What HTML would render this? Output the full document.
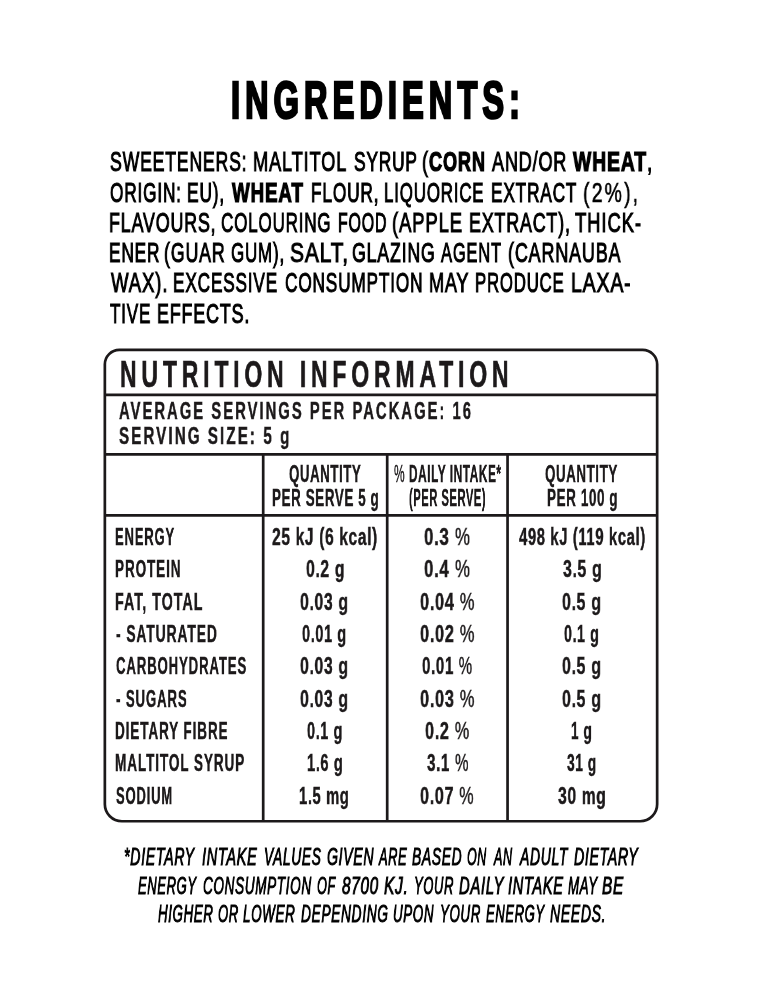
<!DOCTYPE html><html><head><meta charset="utf-8"><style>
*{margin:0;padding:0}
html,body{width:761px;height:1000px;background:#fff;overflow:hidden}
body{position:relative;font-family:"Liberation Sans",sans-serif}
b{font-weight:700}
.t{position:absolute;white-space:nowrap;line-height:1;transform-origin:0 0;will-change:transform}
svg{position:absolute;left:0;top:0}

</style></head><body>
<svg width="761" height="1000" viewBox="0 0 761 1000"><g fill="none" stroke="#1c191a" stroke-width="2.70"><path d="M119.35 349.85 H642.65 A14.50 14.50 0 0 1 657.15 364.35 V804.25 A17.00 17.00 0 0 1 640.15 821.25 H121.85 A17.00 17.00 0 0 1 104.85 804.25 V364.35 A14.50 14.50 0 0 1 119.35 349.85 Z"/><line x1="104.50" y1="394.80" x2="657.50" y2="394.80"/><line x1="104.50" y1="454.40" x2="657.50" y2="454.40"/><line x1="104.50" y1="515.35" x2="657.50" y2="515.35"/><line x1="263.20" y1="454.40" x2="263.20" y2="821.60"/><line x1="387.20" y1="454.40" x2="387.20" y2="821.60"/><line x1="507.55" y1="454.40" x2="507.55" y2="821.60"/></g></svg>
<div class="t" style="left:230.70px;top:74.73px;color:#000;transform:scaleX(0.6359);font-size:51.126px;font-weight:700;letter-spacing:8.000px;-webkit-text-stroke:2.60px #000;">INGREDIENTS:</div>
<div class="t" style="left:109.65px;top:148.41px;color:#000;transform:scaleX(0.6407);font-size:27.507px;font-weight:400;letter-spacing:1.300px;-webkit-text-stroke:1.10px #000;">SWEETENERS:</div>
<div class="t" style="left:252.71px;top:148.41px;color:#000;transform:scaleX(0.6616);font-size:27.507px;font-weight:400;letter-spacing:1.300px;-webkit-text-stroke:1.10px #000;">MALTITOL</div>
<div class="t" style="left:353.65px;top:148.41px;color:#000;transform:scaleX(0.6296);font-size:27.507px;font-weight:400;letter-spacing:1.300px;-webkit-text-stroke:1.10px #000;">SYRUP</div>
<div class="t" style="left:421.67px;top:148.41px;color:#000;transform:scaleX(0.6615);font-size:27.507px;font-weight:400;letter-spacing:1.300px;-webkit-text-stroke:1.10px #000;">(<b style="-webkit-text-stroke-width:0.045em">CORN</b></div>
<div class="t" style="left:492.05px;top:148.41px;color:#000;transform:scaleX(0.6551);font-size:27.507px;font-weight:400;letter-spacing:1.300px;-webkit-text-stroke:1.10px #000;">AND/OR</div>
<div class="t" style="left:572.98px;top:148.41px;color:#000;transform:scaleX(0.7029);font-size:27.507px;font-weight:400;letter-spacing:1.300px;-webkit-text-stroke:1.10px #000;"><b style="-webkit-text-stroke-width:0.045em">WHEAT</b>,</div>
<div class="t" style="left:109.77px;top:178.63px;color:#000;transform:scaleX(0.6267);font-size:27.507px;font-weight:400;letter-spacing:1.300px;-webkit-text-stroke:1.10px #000;">ORIGIN:</div>
<div class="t" style="left:186.76px;top:178.63px;color:#000;transform:scaleX(0.6312);font-size:27.507px;font-weight:400;letter-spacing:1.300px;-webkit-text-stroke:1.10px #000;">EU),</div>
<div class="t" style="left:232.37px;top:178.63px;color:#000;transform:scaleX(0.6814);font-size:27.507px;font-weight:400;letter-spacing:1.300px;-webkit-text-stroke:1.10px #000;"><b style="-webkit-text-stroke-width:0.045em">WHEAT</b></div>
<div class="t" style="left:310.66px;top:178.63px;color:#000;transform:scaleX(0.6289);font-size:27.507px;font-weight:400;letter-spacing:1.300px;-webkit-text-stroke:1.10px #000;">FLOUR,</div>
<div class="t" style="left:384.38px;top:178.63px;color:#000;transform:scaleX(0.6160);font-size:27.507px;font-weight:400;letter-spacing:1.300px;-webkit-text-stroke:1.10px #000;">LIQUORICE</div>
<div class="t" style="left:491.26px;top:178.63px;color:#000;transform:scaleX(0.6275);font-size:27.507px;font-weight:400;letter-spacing:1.300px;-webkit-text-stroke:1.10px #000;">EXTRACT</div>
<div class="t" style="left:583.12px;top:178.27px;color:#000;transform:scaleX(0.6939);font-size:28.232px;font-weight:400;letter-spacing:3.000px;-webkit-text-stroke:0.60px #000;">(2%),</div>
<div class="t" style="left:109.13px;top:208.85px;color:#000;transform:scaleX(0.6493);font-size:27.507px;font-weight:400;letter-spacing:1.300px;-webkit-text-stroke:1.10px #000;">FLAVOURS,</div>
<div class="t" style="left:221.29px;top:208.85px;color:#000;transform:scaleX(0.6195);font-size:27.507px;font-weight:400;letter-spacing:1.300px;-webkit-text-stroke:1.10px #000;">COLOURING</div>
<div class="t" style="left:337.54px;top:208.85px;color:#000;transform:scaleX(0.5814);font-size:27.507px;font-weight:400;letter-spacing:1.300px;-webkit-text-stroke:1.10px #000;">FOOD</div>
<div class="t" style="left:392.26px;top:208.85px;color:#000;transform:scaleX(0.6715);font-size:27.507px;font-weight:400;letter-spacing:1.300px;-webkit-text-stroke:1.10px #000;">(APPLE</div>
<div class="t" style="left:468.93px;top:208.85px;color:#000;transform:scaleX(0.6488);font-size:27.507px;font-weight:400;letter-spacing:1.300px;-webkit-text-stroke:1.10px #000;">EXTRACT),</div>
<div class="t" style="left:575.40px;top:208.85px;color:#000;transform:scaleX(0.6727);font-size:27.507px;font-weight:400;letter-spacing:1.300px;-webkit-text-stroke:1.10px #000;">THICK-</div>
<div class="t" style="left:109.16px;top:239.07px;color:#000;transform:scaleX(0.6274);font-size:27.507px;font-weight:400;letter-spacing:1.300px;-webkit-text-stroke:1.10px #000;">ENER</div>
<div class="t" style="left:164.09px;top:239.07px;color:#000;transform:scaleX(0.6470);font-size:27.507px;font-weight:400;letter-spacing:1.300px;-webkit-text-stroke:1.10px #000;">(GUAR</div>
<div class="t" style="left:231.49px;top:239.07px;color:#000;transform:scaleX(0.6169);font-size:27.507px;font-weight:400;letter-spacing:1.300px;-webkit-text-stroke:1.10px #000;">GUM),</div>
<div class="t" style="left:290.38px;top:239.07px;color:#000;transform:scaleX(0.7568);font-size:27.507px;font-weight:400;letter-spacing:1.300px;-webkit-text-stroke:1.10px #000;">SALT,</div>
<div class="t" style="left:352.47px;top:239.07px;color:#000;transform:scaleX(0.6439);font-size:27.507px;font-weight:400;letter-spacing:1.300px;-webkit-text-stroke:1.10px #000;">GLAZING</div>
<div class="t" style="left:441.21px;top:239.07px;color:#000;transform:scaleX(0.6008);font-size:27.507px;font-weight:400;letter-spacing:1.300px;-webkit-text-stroke:1.10px #000;">AGENT</div>
<div class="t" style="left:507.98px;top:239.07px;color:#000;transform:scaleX(0.6527);font-size:27.507px;font-weight:400;letter-spacing:1.300px;-webkit-text-stroke:1.10px #000;">(CARNAUBA</div>
<div class="t" style="left:110.57px;top:269.29px;color:#000;transform:scaleX(0.6748);font-size:27.507px;font-weight:400;letter-spacing:1.300px;-webkit-text-stroke:1.10px #000;">WAX).</div>
<div class="t" style="left:172.97px;top:269.29px;color:#000;transform:scaleX(0.6265);font-size:27.507px;font-weight:400;letter-spacing:1.300px;-webkit-text-stroke:1.10px #000;">EXCESSIVE</div>
<div class="t" style="left:284.58px;top:269.29px;color:#000;transform:scaleX(0.6270);font-size:27.507px;font-weight:400;letter-spacing:1.300px;-webkit-text-stroke:1.10px #000;">CONSUMPTION</div>
<div class="t" style="left:429.12px;top:269.29px;color:#000;transform:scaleX(0.6557);font-size:27.507px;font-weight:400;letter-spacing:1.300px;-webkit-text-stroke:1.10px #000;">MAY</div>
<div class="t" style="left:475.19px;top:269.29px;color:#000;transform:scaleX(0.6103);font-size:27.507px;font-weight:400;letter-spacing:1.300px;-webkit-text-stroke:1.10px #000;">PRODUCE</div>
<div class="t" style="left:570.54px;top:269.29px;color:#000;transform:scaleX(0.7040);font-size:27.507px;font-weight:400;letter-spacing:1.300px;-webkit-text-stroke:1.10px #000;">LAXA-</div>
<div class="t" style="left:110.20px;top:299.51px;color:#000;transform:scaleX(0.6199);font-size:27.507px;font-weight:400;letter-spacing:1.300px;-webkit-text-stroke:1.10px #000;">TIVE</div>
<div class="t" style="left:157.23px;top:299.51px;color:#000;transform:scaleX(0.6498);font-size:27.507px;font-weight:400;letter-spacing:1.300px;-webkit-text-stroke:1.10px #000;">EFFECTS.</div>
<div class="t" style="left:119.62px;top:357.18px;color:#1c191a;transform:scaleX(0.6388);font-size:36.080px;font-weight:700;letter-spacing:7.500px;-webkit-text-stroke:0.60px #1c191a;">NUTRITION INFORMATION</div>
<div class="t" style="left:119.48px;top:400.27px;color:#1c191a;transform:scaleX(0.6319);font-size:23.422px;font-weight:700;letter-spacing:3.200px;-webkit-text-stroke:0.45px #1c191a;">AVERAGE SERVINGS PER PACKAGE: 16</div>
<div class="t" style="left:119.40px;top:424.99px;color:#1c191a;transform:scaleX(0.6517);font-size:23.277px;font-weight:700;letter-spacing:3.200px;-webkit-text-stroke:0.45px #1c191a;">SERVING SIZE: 5 g</div>
<div class="t" style="left:289.10px;top:461.54px;color:#1c191a;transform:scaleX(0.5568);font-size:23.855px;font-weight:700;letter-spacing:1.000px;-webkit-text-stroke:0.45px #1c191a;">QUANTITY</div>
<div class="t" style="left:272.19px;top:486.24px;color:#1c191a;transform:scaleX(0.5643);font-size:23.855px;font-weight:700;letter-spacing:1.000px;-webkit-text-stroke:0.45px #1c191a;">PER SERVE 5 g</div>
<div class="t" style="left:394.00px;top:461.54px;color:#1c191a;transform:scaleX(0.5010);font-size:23.855px;font-weight:700;letter-spacing:1.000px;-webkit-text-stroke:0.45px #1c191a;"><span style="font-weight:400">%</span> DAILY INTAKE*</div>
<div class="t" style="left:408.85px;top:486.24px;color:#1c191a;transform:scaleX(0.4729);font-size:23.855px;font-weight:700;letter-spacing:1.000px;-webkit-text-stroke:0.45px #1c191a;">(PER SERVE)</div>
<div class="t" style="left:545.10px;top:461.54px;color:#1c191a;transform:scaleX(0.5607);font-size:23.855px;font-weight:700;letter-spacing:1.000px;-webkit-text-stroke:0.45px #1c191a;">QUANTITY</div>
<div class="t" style="left:546.59px;top:486.24px;color:#1c191a;transform:scaleX(0.5660);font-size:23.855px;font-weight:700;letter-spacing:1.000px;-webkit-text-stroke:0.45px #1c191a;">PER 100 g</div>
<div class="t" style="left:115.22px;top:525.07px;color:#1c191a;transform:scaleX(0.5396);font-size:24.078px;font-weight:700;letter-spacing:1.600px;-webkit-text-stroke:0.45px #1c191a;">ENERGY</div>
<div class="t" style="left:272.11px;top:525.07px;color:#1c191a;transform:scaleX(0.6465);font-size:24.078px;font-weight:700;letter-spacing:1.000px;-webkit-text-stroke:0.45px #1c191a;">25 kJ (6 kcal)</div>
<div class="t" style="left:423.79px;top:525.07px;color:#1c191a;transform:scaleX(0.6997);font-size:24.078px;font-weight:700;letter-spacing:1.000px;-webkit-text-stroke:0.45px #1c191a;">0.3 <span style="font-weight:400">%</span></div>
<div class="t" style="left:518.73px;top:525.07px;color:#1c191a;transform:scaleX(0.6166);font-size:24.078px;font-weight:700;letter-spacing:1.000px;-webkit-text-stroke:0.45px #1c191a;">498 kJ (119 kcal)</div>
<div class="t" style="left:115.19px;top:557.41px;color:#1c191a;transform:scaleX(0.5617);font-size:24.078px;font-weight:700;letter-spacing:1.600px;-webkit-text-stroke:0.45px #1c191a;">PROTEIN</div>
<div class="t" style="left:305.53px;top:557.41px;color:#1c191a;transform:scaleX(0.6525);font-size:24.078px;font-weight:700;letter-spacing:1.000px;-webkit-text-stroke:0.45px #1c191a;">0.2 g</div>
<div class="t" style="left:423.79px;top:557.41px;color:#1c191a;transform:scaleX(0.6997);font-size:24.078px;font-weight:700;letter-spacing:1.000px;-webkit-text-stroke:0.45px #1c191a;">0.4 <span style="font-weight:400">%</span></div>
<div class="t" style="left:562.56px;top:557.41px;color:#1c191a;transform:scaleX(0.6572);font-size:24.078px;font-weight:700;letter-spacing:1.000px;-webkit-text-stroke:0.45px #1c191a;">3.5 g</div>
<div class="t" style="left:115.14px;top:589.75px;color:#1c191a;transform:scaleX(0.5966);font-size:24.078px;font-weight:700;letter-spacing:1.600px;-webkit-text-stroke:0.45px #1c191a;">FAT, TOTAL</div>
<div class="t" style="left:300.23px;top:589.75px;color:#1c191a;transform:scaleX(0.6564);font-size:24.078px;font-weight:700;letter-spacing:1.000px;-webkit-text-stroke:0.45px #1c191a;">0.03 g</div>
<div class="t" style="left:419.51px;top:589.75px;color:#1c191a;transform:scaleX(0.6805);font-size:24.078px;font-weight:700;letter-spacing:1.000px;-webkit-text-stroke:0.45px #1c191a;">0.04 <span style="font-weight:400">%</span></div>
<div class="t" style="left:562.32px;top:589.75px;color:#1c191a;transform:scaleX(0.6613);font-size:24.078px;font-weight:700;letter-spacing:1.000px;-webkit-text-stroke:0.45px #1c191a;">0.5 g</div>
<div class="t" style="left:115.59px;top:622.09px;color:#1c191a;transform:scaleX(0.5744);font-size:24.078px;font-weight:700;letter-spacing:1.600px;-webkit-text-stroke:0.45px #1c191a;">- SATURATED</div>
<div class="t" style="left:302.16px;top:622.09px;color:#1c191a;transform:scaleX(0.6030);font-size:24.078px;font-weight:700;letter-spacing:1.000px;-webkit-text-stroke:0.45px #1c191a;">0.01 g</div>
<div class="t" style="left:419.51px;top:622.09px;color:#1c191a;transform:scaleX(0.6805);font-size:24.078px;font-weight:700;letter-spacing:1.000px;-webkit-text-stroke:0.45px #1c191a;">0.02 <span style="font-weight:400">%</span></div>
<div class="t" style="left:564.37px;top:622.09px;color:#1c191a;transform:scaleX(0.5908);font-size:24.078px;font-weight:700;letter-spacing:1.000px;-webkit-text-stroke:0.45px #1c191a;">0.1 g</div>
<div class="t" style="left:115.60px;top:654.43px;color:#1c191a;transform:scaleX(0.5471);font-size:24.078px;font-weight:700;letter-spacing:1.600px;-webkit-text-stroke:0.45px #1c191a;">CARBOHYDRATES</div>
<div class="t" style="left:300.23px;top:654.43px;color:#1c191a;transform:scaleX(0.6564);font-size:24.078px;font-weight:700;letter-spacing:1.000px;-webkit-text-stroke:0.45px #1c191a;">0.03 g</div>
<div class="t" style="left:421.55px;top:654.43px;color:#1c191a;transform:scaleX(0.6271);font-size:24.078px;font-weight:700;letter-spacing:1.000px;-webkit-text-stroke:0.45px #1c191a;">0.01 <span style="font-weight:400">%</span></div>
<div class="t" style="left:562.32px;top:654.43px;color:#1c191a;transform:scaleX(0.6613);font-size:24.078px;font-weight:700;letter-spacing:1.000px;-webkit-text-stroke:0.45px #1c191a;">0.5 g</div>
<div class="t" style="left:115.60px;top:686.77px;color:#1c191a;transform:scaleX(0.5491);font-size:24.078px;font-weight:700;letter-spacing:1.600px;-webkit-text-stroke:0.45px #1c191a;">- SUGARS</div>
<div class="t" style="left:300.23px;top:686.77px;color:#1c191a;transform:scaleX(0.6564);font-size:24.078px;font-weight:700;letter-spacing:1.000px;-webkit-text-stroke:0.45px #1c191a;">0.03 g</div>
<div class="t" style="left:419.51px;top:686.77px;color:#1c191a;transform:scaleX(0.6805);font-size:24.078px;font-weight:700;letter-spacing:1.000px;-webkit-text-stroke:0.45px #1c191a;">0.03 <span style="font-weight:400">%</span></div>
<div class="t" style="left:562.32px;top:686.77px;color:#1c191a;transform:scaleX(0.6613);font-size:24.078px;font-weight:700;letter-spacing:1.000px;-webkit-text-stroke:0.45px #1c191a;">0.5 g</div>
<div class="t" style="left:115.19px;top:719.11px;color:#1c191a;transform:scaleX(0.5612);font-size:24.078px;font-weight:700;letter-spacing:1.600px;-webkit-text-stroke:0.45px #1c191a;">DIETARY FIBRE</div>
<div class="t" style="left:306.97px;top:719.11px;color:#1c191a;transform:scaleX(0.5996);font-size:24.078px;font-weight:700;letter-spacing:1.000px;-webkit-text-stroke:0.45px #1c191a;">0.1 g</div>
<div class="t" style="left:424.51px;top:719.11px;color:#1c191a;transform:scaleX(0.6732);font-size:24.078px;font-weight:700;letter-spacing:1.000px;-webkit-text-stroke:0.45px #1c191a;">0.2 <span style="font-weight:400">%</span></div>
<div class="t" style="left:570.75px;top:719.11px;color:#1c191a;transform:scaleX(0.5665);font-size:24.078px;font-weight:700;letter-spacing:1.000px;-webkit-text-stroke:0.45px #1c191a;">1 g</div>
<div class="t" style="left:115.19px;top:751.45px;color:#1c191a;transform:scaleX(0.5637);font-size:24.078px;font-weight:700;letter-spacing:1.600px;-webkit-text-stroke:0.45px #1c191a;">MALTITOL SYRUP</div>
<div class="t" style="left:306.60px;top:751.45px;color:#1c191a;transform:scaleX(0.6061);font-size:24.078px;font-weight:700;letter-spacing:1.000px;-webkit-text-stroke:0.45px #1c191a;">1.6 g</div>
<div class="t" style="left:426.57px;top:751.45px;color:#1c191a;transform:scaleX(0.6323);font-size:24.078px;font-weight:700;letter-spacing:1.000px;-webkit-text-stroke:0.45px #1c191a;">3.1 <span style="font-weight:400">%</span></div>
<div class="t" style="left:566.89px;top:751.45px;color:#1c191a;transform:scaleX(0.5699);font-size:24.078px;font-weight:700;letter-spacing:1.000px;-webkit-text-stroke:0.45px #1c191a;">31 g</div>
<div class="t" style="left:115.74px;top:783.79px;color:#1c191a;transform:scaleX(0.5388);font-size:24.078px;font-weight:700;letter-spacing:1.600px;-webkit-text-stroke:0.45px #1c191a;">SODIUM</div>
<div class="t" style="left:299.19px;top:783.79px;color:#1c191a;transform:scaleX(0.6131);font-size:24.078px;font-weight:700;letter-spacing:1.000px;-webkit-text-stroke:0.45px #1c191a;">1.5 mg</div>
<div class="t" style="left:419.82px;top:783.79px;color:#1c191a;transform:scaleX(0.6704);font-size:24.078px;font-weight:700;letter-spacing:1.000px;-webkit-text-stroke:0.45px #1c191a;">0.07 <span style="font-weight:400">%</span></div>
<div class="t" style="left:558.07px;top:783.79px;color:#1c191a;transform:scaleX(0.6498);font-size:24.078px;font-weight:700;letter-spacing:1.000px;-webkit-text-stroke:0.45px #1c191a;">30 mg</div>
<div class="t" style="left:124.37px;top:846.35px;color:#000;transform:scaleX(0.6136);font-size:23.113px;font-weight:400;font-style:italic;letter-spacing:1.100px;-webkit-text-stroke:1.00px #000;">*DIETARY</div>
<div class="t" style="left:201.78px;top:846.35px;color:#000;transform:scaleX(0.6282);font-size:23.113px;font-weight:400;font-style:italic;letter-spacing:1.100px;-webkit-text-stroke:1.00px #000;">INTAKE</div>
<div class="t" style="left:263.97px;top:846.35px;color:#000;transform:scaleX(0.5963);font-size:23.113px;font-weight:400;font-style:italic;letter-spacing:1.100px;-webkit-text-stroke:1.00px #000;">VALUES</div>
<div class="t" style="left:326.68px;top:846.35px;color:#000;transform:scaleX(0.6110);font-size:23.113px;font-weight:400;font-style:italic;letter-spacing:1.100px;-webkit-text-stroke:1.00px #000;">GIVEN</div>
<div class="t" style="left:378.99px;top:846.35px;color:#000;transform:scaleX(0.5546);font-size:23.113px;font-weight:400;font-style:italic;letter-spacing:1.100px;-webkit-text-stroke:1.00px #000;">ARE</div>
<div class="t" style="left:412.03px;top:846.35px;color:#000;transform:scaleX(0.6007);font-size:23.113px;font-weight:400;font-style:italic;letter-spacing:1.100px;-webkit-text-stroke:1.00px #000;">BASED</div>
<div class="t" style="left:467.23px;top:846.35px;color:#000;transform:scaleX(0.5377);font-size:23.113px;font-weight:400;font-style:italic;letter-spacing:1.100px;-webkit-text-stroke:1.00px #000;">ON</div>
<div class="t" style="left:494.07px;top:846.35px;color:#000;transform:scaleX(0.5443);font-size:23.113px;font-weight:400;font-style:italic;letter-spacing:1.100px;-webkit-text-stroke:1.00px #000;">AN</div>
<div class="t" style="left:520.19px;top:846.35px;color:#000;transform:scaleX(0.6056);font-size:23.113px;font-weight:400;font-style:italic;letter-spacing:1.100px;-webkit-text-stroke:1.00px #000;">ADULT</div>
<div class="t" style="left:574.23px;top:846.35px;color:#000;transform:scaleX(0.6116);font-size:23.113px;font-weight:400;font-style:italic;letter-spacing:1.100px;-webkit-text-stroke:1.00px #000;">DIETARY</div>
<div class="t" style="left:138.33px;top:874.85px;color:#000;transform:scaleX(0.5626);font-size:23.113px;font-weight:400;font-style:italic;letter-spacing:1.100px;-webkit-text-stroke:1.00px #000;">ENERGY</div>
<div class="t" style="left:203.23px;top:874.85px;color:#000;transform:scaleX(0.5866);font-size:23.113px;font-weight:400;font-style:italic;letter-spacing:1.100px;-webkit-text-stroke:1.00px #000;">CONSUMPTION</div>
<div class="t" style="left:317.32px;top:874.85px;color:#000;transform:scaleX(0.5496);font-size:23.113px;font-weight:400;font-style:italic;letter-spacing:1.100px;-webkit-text-stroke:1.00px #000;">OF</div>
<div class="t" style="left:342.42px;top:874.85px;color:#000;transform:scaleX(0.6613);font-size:23.113px;font-weight:400;font-style:italic;letter-spacing:1.100px;-webkit-text-stroke:1.00px #000;">8700</div>
<div class="t" style="left:383.82px;top:874.85px;color:#000;transform:scaleX(0.6670);font-size:23.113px;font-weight:400;font-style:italic;letter-spacing:1.100px;-webkit-text-stroke:1.00px #000;">KJ.</div>
<div class="t" style="left:413.79px;top:874.85px;color:#000;transform:scaleX(0.5622);font-size:23.113px;font-weight:400;font-style:italic;letter-spacing:1.100px;-webkit-text-stroke:1.00px #000;">YOUR</div>
<div class="t" style="left:459.03px;top:874.85px;color:#000;transform:scaleX(0.6423);font-size:23.113px;font-weight:400;font-style:italic;letter-spacing:1.100px;-webkit-text-stroke:1.00px #000;">DAILY</div>
<div class="t" style="left:507.98px;top:874.85px;color:#000;transform:scaleX(0.6305);font-size:23.113px;font-weight:400;font-style:italic;letter-spacing:1.100px;-webkit-text-stroke:1.00px #000;">INTAKE</div>
<div class="t" style="left:567.73px;top:874.85px;color:#000;transform:scaleX(0.5756);font-size:23.113px;font-weight:400;font-style:italic;letter-spacing:1.100px;-webkit-text-stroke:1.00px #000;">MAY</div>
<div class="t" style="left:602.42px;top:874.85px;color:#000;transform:scaleX(0.6659);font-size:23.113px;font-weight:400;font-style:italic;letter-spacing:1.100px;-webkit-text-stroke:1.00px #000;">BE</div>
<div class="t" style="left:158.33px;top:903.25px;color:#000;transform:scaleX(0.5751);font-size:23.113px;font-weight:400;font-style:italic;letter-spacing:1.100px;-webkit-text-stroke:1.00px #000;">HIGHER</div>
<div class="t" style="left:217.81px;top:903.25px;color:#000;transform:scaleX(0.5645);font-size:23.113px;font-weight:400;font-style:italic;letter-spacing:1.100px;-webkit-text-stroke:1.00px #000;">OR</div>
<div class="t" style="left:243.03px;top:903.25px;color:#000;transform:scaleX(0.5806);font-size:23.113px;font-weight:400;font-style:italic;letter-spacing:1.100px;-webkit-text-stroke:1.00px #000;">LOWER</div>
<div class="t" style="left:301.43px;top:903.25px;color:#000;transform:scaleX(0.5949);font-size:23.113px;font-weight:400;font-style:italic;letter-spacing:1.100px;-webkit-text-stroke:1.00px #000;">DEPENDING</div>
<div class="t" style="left:393.47px;top:903.25px;color:#000;transform:scaleX(0.5773);font-size:23.113px;font-weight:400;font-style:italic;letter-spacing:1.100px;-webkit-text-stroke:1.00px #000;">UPON</div>
<div class="t" style="left:440.17px;top:903.25px;color:#000;transform:scaleX(0.5754);font-size:23.113px;font-weight:400;font-style:italic;letter-spacing:1.100px;-webkit-text-stroke:1.00px #000;">YOUR</div>
<div class="t" style="left:485.53px;top:903.25px;color:#000;transform:scaleX(0.5636);font-size:23.113px;font-weight:400;font-style:italic;letter-spacing:1.100px;-webkit-text-stroke:1.00px #000;">ENERGY</div>
<div class="t" style="left:550.43px;top:903.25px;color:#000;transform:scaleX(0.6075);font-size:23.113px;font-weight:400;font-style:italic;letter-spacing:1.100px;-webkit-text-stroke:1.00px #000;">NEEDS.</div>
</body></html>
